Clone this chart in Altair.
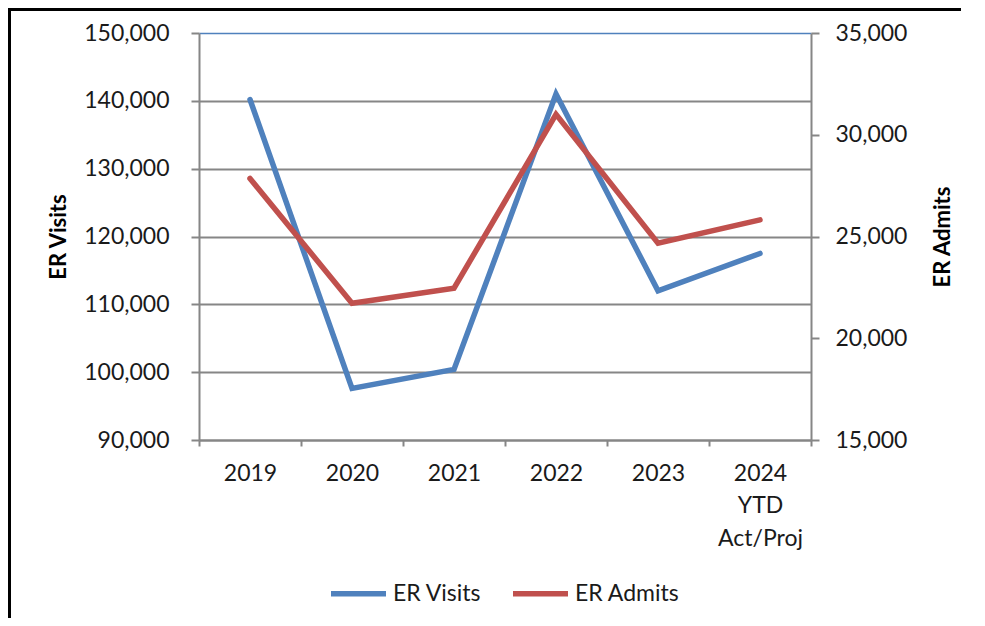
import altair as alt
import pandas as pd

years = ["2019", "2020", "2021", "2022", "2023", "2024|YTD|Act/Proj"]
er_visits = [140200, 97600, 100400, 141000, 112000, 117500]
er_admits = [27850, 21720, 22460, 31000, 24670, 25820]
series_names = ["ER Visits", "ER Admits"]

left_ticks = [90000, 100000, 110000, 120000, 130000, 140000, 150000]
right_ticks = [15000, 20000, 25000, 30000, 35000]

df = pd.DataFrame({"year": years, "visits": er_visits, "admits": er_admits})

FONT = "Lato"
BLUE = "#4F81BD"
RED = "#C0504D"
GRID = "#868686"
TXT = "#1a1a1a"
FS = 23
TFS = 22
LW = 5.5

W, H = 612, 407

x = alt.X(
    "year:N",
    sort=years,
    scale=alt.Scale(type="band", paddingInner=0, paddingOuter=0),
    axis=alt.Axis(
        title=None, labelAngle=0, labelExpr="split(datum.label, '|')",
        tickBand="extent", domainColor=GRID, domainWidth=2, tickColor=GRID,
        tickWidth=2, tickSize=6, labelPadding=16, labelLineHeight=32.5,
        grid=False, labelFontSize=FS, labelFont=FONT, labelColor=TXT,
        labelBaseline="top",
    ),
)

color_scale = alt.Scale(domain=series_names, range=[BLUE, RED])
legend = alt.Legend(
    title=None, orient="none", legendX=129, legendY=530, direction="horizontal",
    symbolType="stroke", symbolStrokeWidth=LW, symbolSize=3025,
    labelFontSize=FS, labelFont=FONT, labelColor=TXT, labelOffset=4,
    columnPadding=20,
)
color = alt.Color("series:N", scale=color_scale, legend=legend)

visits = alt.Chart(df).transform_calculate(series="'ER Visits'").mark_line(
    strokeWidth=LW, strokeCap="round"
).encode(
    x=x,
    y=alt.Y(
        "visits:Q",
        scale=alt.Scale(domain=[90000, 150000], nice=False, zero=False),
        axis=alt.Axis(
            title="ER Visits", orient="left", values=left_ticks, format=",.0f",
            grid=True,
            gridColor={"condition": {"test": "datum.value == 150000", "value": BLUE}, "value": GRID},
            gridWidth={"condition": {"test": "datum.value == 150000", "value": 1.5}, "value": 2},
            domainColor=GRID, domainWidth=2, tickColor=GRID, tickWidth=2, tickSize=8,
            labelPadding=22, labelFontSize=FS, labelFont=FONT, labelColor=TXT,
            titleFont=FONT, titleFontSize=TFS, titleFontWeight="bold", titleColor="black",
            titlePadding=13,
        ),
    ),
    color=color,
)

admits = alt.Chart(df).transform_calculate(series="'ER Admits'").mark_line(
    strokeWidth=LW, strokeCap="round"
).encode(
    x=x,
    y=alt.Y(
        "admits:Q",
        scale=alt.Scale(domain=[15000, 35000], nice=False, zero=False),
        axis=alt.Axis(
            title="ER Admits", orient="right", values=right_ticks, format=",.0f",
            grid=False,
            domainColor=GRID, domainWidth=2, tickColor=GRID, tickWidth=2, tickSize=8,
            labelPadding=16, labelFontSize=FS, labelFont=FONT, labelColor=TXT,
            titleFont=FONT, titleFontSize=TFS, titleFontWeight="bold", titleColor="black",
            titleAngle=270, titleBaseline="top", titlePadding=26,
        ),
    ),
    color=color,
)

one = pd.DataFrame({"a": [0]})
top_border = alt.Chart(one).mark_rule(color="black", strokeWidth=3).encode(
    x=alt.value(-191), x2=alt.value(W + 160), y=alt.value(-23.5)
)
left_border = alt.Chart(one).mark_rule(color="black", strokeWidth=3).encode(
    x=alt.value(-189.5), y=alt.value(-25), y2=alt.value(H + 180)
)

chart = alt.layer(visits, admits, top_border, left_border).resolve_scale(
    y="independent"
).properties(
    width=W, height=H, autosize="none",
    padding={"left": 191, "top": 25, "right": 150, "bottom": 178},
).configure_view(stroke=None)

chart.save("out.html", embed_options={"renderer": "svg", "actions": False})
